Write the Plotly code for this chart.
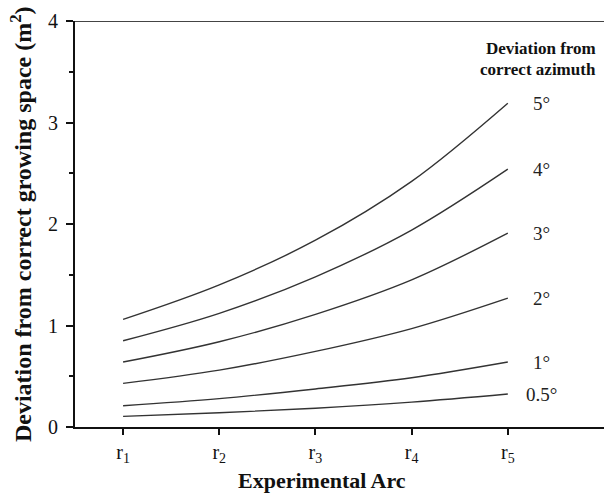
import plotly.graph_objects as go

# Data
arc_positions = [1, 2, 3, 4, 5]
arc_labels = ["r<sub>1</sub>", "r<sub>2</sub>", "r<sub>3</sub>", "r<sub>4</sub>", "r<sub>5</sub>"]
series_names = ["5°", "4°", "3°", "2°", "1°", "0.5°"]
dev_5 = [1.06, 1.40, 1.84, 2.42, 3.19]
dev_4 = [0.85, 1.12, 1.48, 1.94, 2.54]
dev_3 = [0.64, 0.84, 1.11, 1.45, 1.91]
dev_2 = [0.43, 0.56, 0.745, 0.97, 1.27]
dev_1 = [0.21, 0.28, 0.375, 0.485, 0.64]
dev_05 = [0.105, 0.14, 0.185, 0.245, 0.325]
series_values = [dev_5, dev_4, dev_3, dev_2, dev_1, dev_05]
y_ticks = [0, 1, 2, 3, 4]

FONT = "Liberation Serif, Times New Roman, serif"
LINE = "#333333"

fig = go.Figure()
for name, vals in zip(series_names, series_values):
    fig.add_trace(go.Scatter(
        x=arc_positions, y=vals, mode="lines", name=name,
        line=dict(color=LINE, width=1.4, shape="spline", smoothing=1.0),
        showlegend=False, hoverinfo="skip",
    ))
    fig.add_annotation(
        x=5.35, y=vals[-1], xref="x", yref="y", text=name, showarrow=False,
        xanchor="center", yanchor="middle",
        font=dict(family=FONT, size=19, color="#222222"),
    )

fig.add_annotation(x=5.94, y=3.734, xref="x", yref="y", text="<b>Deviation from</b>",
                   showarrow=False, xanchor="right", yanchor="middle",
                   font=dict(family=FONT, size=17, color="#111111"))
fig.add_annotation(x=5.94, y=3.527, xref="x", yref="y", text="<b>correct azimuth</b>",
                   showarrow=False, xanchor="right", yanchor="middle",
                   font=dict(family=FONT, size=17, color="#111111"))

# Axis titles as annotations for precise placement
fig.add_annotation(x=-0.102, y=0.50, xref="paper", yref="paper",
                   text="<b>Deviation from correct growing space (m<sup>2</sup>)</b>",
                   textangle=-90, showarrow=False, xanchor="center", yanchor="middle",
                   font=dict(family=FONT, size=24, color="#111111"))
fig.add_annotation(x=0.467, y=-0.133, xref="paper", yref="paper",
                   text="<b>Experimental Arc</b>",
                   showarrow=False, xanchor="center", yanchor="middle",
                   font=dict(family=FONT, size=22, color="#111111"))

# top border line
fig.add_shape(type="line", xref="paper", yref="y", x0=0, x1=1, y0=4, y1=4,
              line=dict(color="#444444", width=2))

fig.update_layout(
    width=604, height=495,
    margin=dict(l=75, r=0, t=21, b=68),
    paper_bgcolor="white", plot_bgcolor="white",
    font=dict(family=FONT, color="#111111"),
    xaxis=dict(
        range=[0.5, 6.0], tickvals=arc_positions, ticktext=arc_labels,
        showgrid=False, zeroline=False, showline=True, linecolor="#111111", linewidth=2,
        ticks="outside", ticklen=6, tickwidth=1.5, tickcolor="#111111",
        tickfont=dict(family=FONT, size=20, color="#111111"),
    ),
    yaxis=dict(
        range=[0, 4], tickvals=y_ticks,
        showgrid=False, zeroline=False, showline=True, linecolor="#111111", linewidth=2,
        ticks="outside", ticklen=7, tickwidth=1.5, tickcolor="#111111",
        ticklabelstandoff=4,
        tickfont=dict(family=FONT, size=20, color="#111111"),
        minor=dict(dtick=0.5, ticks="outside", ticklen=4, tickwidth=1.5, tickcolor="#111111"),
    ),
)

fig.write_html("out.html",
               config={"displayModeBar": False},
               post_script="document.body.style.margin='0';document.body.style.overflow='hidden';")
